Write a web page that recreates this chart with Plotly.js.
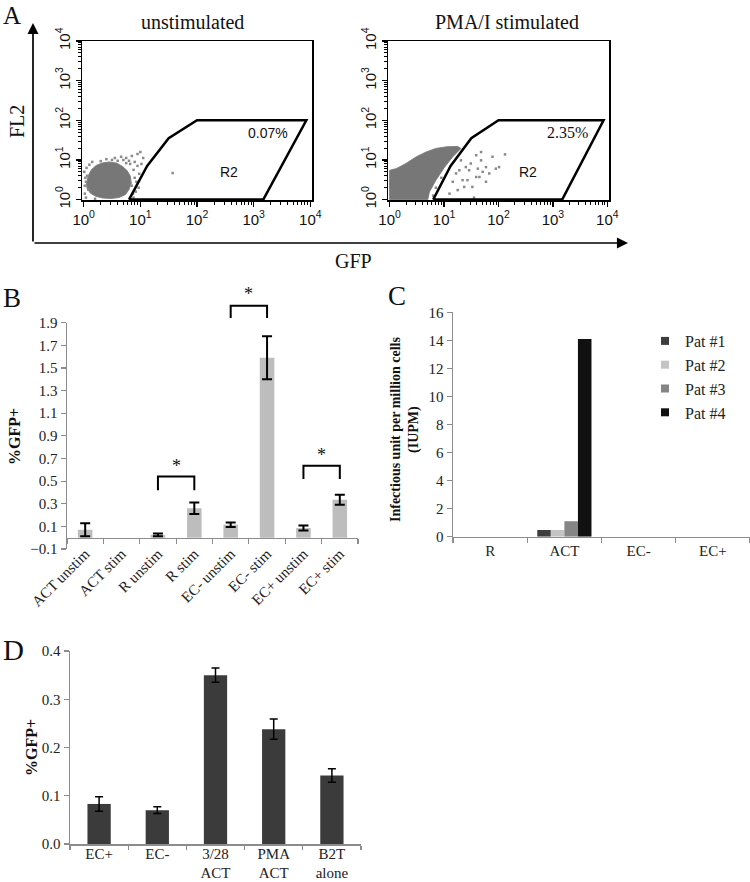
<!DOCTYPE html>
<html>
<head>
<meta charset="utf-8">
<script src="https://cdn.plot.ly/plotly-3.0.1.min.js"></script>
<style>html,body{margin:0;padding:0;background:#fff;}#chart{width:750px;height:882px;}</style>
</head>
<body>
<div id="chart"></div>
<script>
// ---------- DATA ----------
// Panel A (flow cytometry), values in log10 decades
const gateX = [0.8, 1.12, 1.5, 2.0, 3.93, 3.17, 0.8];
const gateY = [0.0, 0.85, 1.55, 2.0, 2.0, 0.0, 0.0];
const leftCoreX = [0.05,0.08,0.14,0.22,0.32,0.45,0.58,0.68,0.76,0.82,0.84,0.80,0.74,0.62,0.48,0.34,0.22,0.12,0.06,0.05];
const leftCoreY = [0.40,0.60,0.76,0.86,0.92,0.95,0.92,0.84,0.74,0.60,0.42,0.26,0.13,0.05,0.03,0.04,0.08,0.16,0.28,0.40];
const leftDotsX = [0.02,0.03,0.05,0.02,0.06,0.08,0.04,0.90,0.95,0.85,0.75,1.00,0.88,0.90,0.85,0.92,0.70,0.60,0.95,1.05,0.98,0.30,0.50,0.82,0.88,0.15,1.57,0.20,0.75,0.66,0.93,1.02,0.01,0.04,0.10,0.40,0.55,0.87,0.80,0.97];
const leftDotsY = [0.35,0.55,0.80,0.15,0.60,0.25,0.05,0.95,1.15,1.10,1.05,1.20,0.75,0.55,0.35,0.20,1.00,0.98,0.85,1.05,0.65,0.97,1.00,0.90,0.05,0.95,0.67,0.02,0.92,1.08,0.45,0.90,0.70,0.45,0.88,1.02,1.05,0.15,0.98,0.30];
const rightCoreX = [0.00,0.00,0.12,0.30,0.49,0.67,0.85,1.04,1.25,1.31,1.16,1.01,0.85,0.73,0.70,0.00];
const rightCoreY = [0.00,0.74,0.78,0.91,1.08,1.20,1.29,1.33,1.34,1.29,1.08,0.82,0.49,0.19,0.00,0.00];
const rightDotsX = [1.59,1.68,1.77,1.89,1.95,2.12,1.22,1.34,1.46,1.52,1.65,1.71,1.77,1.28,1.40,1.55,1.37,1.31,1.49,1.62,1.83,2.01,1.16,1.25,1.10,1.68,1.43,1.59,0.80,0.85,0.95];
const rightDotsY = [1.12,0.99,0.82,1.08,0.78,1.14,0.66,0.49,0.74,0.32,0.57,0.70,0.45,0.74,0.82,0.05,0.32,0.99,0.91,0.78,0.66,0.82,0.45,0.24,0.15,1.20,0.49,0.57,0.10,0.30,0.55];
const decades = [0, 1, 2, 3, 4];

// Panel B
const bCats = ['ACT unstim','ACT stim','R unstim','R stim','EC- unstim','EC- stim','EC+ unstim','EC+ stim'];
const bVals = [0.07, 0, 0.025, 0.26, 0.115, 1.59, 0.085, 0.335];
const bErr  = [0.058, NaN, 0.012, 0.05, 0.02, 0.19, 0.022, 0.045];
const bPairs = [['R unstim','R stim'], ['EC- unstim','EC- stim'], ['EC+ unstim','EC+ stim']];
const bPairTop = [0.54, 2.05, 0.636];
const bPairLeg = [0.42, 1.94, 0.518];
const bStarY = [0.63, 2.15, 0.73];

// Panel C
const cCats = ['R','ACT','EC-','EC+'];
const cNames = ['Pat #1','Pat #2','Pat #3','Pat #4'];
const pat1 = [0, 0.48, 0, 0];
const pat2 = [0, 0.48, 0, 0];
const pat3 = [0, 1.1, 0, 0];
const pat4 = [0, 14.1, 0, 0];

// Panel D
const dCats = ['EC+','EC-','3/28<br>ACT','PMA<br>ACT','B2T<br>alone'];
const dVals = [0.083, 0.07, 0.35, 0.238, 0.142];
const dErr  = [0.015, 0.007, 0.015, 0.021, 0.014];

// ---------- STYLE / HELPERS ----------
const W = 750, H = 882;
const SERIF = 'Liberation Serif, Times New Roman, serif';
const SANS = 'Liberation Sans, Arial, sans-serif';
const AX = '#8c8c8c';
const px = (a, b) => [a / W, b / W];
const py = (top, bottom) => [1 - bottom / H, 1 - top / H];
const toLin = arr => arr.map(v => (v === null ? null : Math.pow(10, v)));
const decVals = decades.map(n => Math.pow(10, n));
const decText = decades.map(n => '10<sup>' + n + '</sup>');
const minorVals = [];
decades.slice(0, 4).forEach(n => { for (let k = 2; k <= 9; k++) minorVals.push(k * Math.pow(10, n)); });

function flowAxis(domain, isY) {
  return {
    domain: domain, type: 'log', range: isY ? [-0.01, 4.0] : [-0.03, 4.03],
    tickmode: 'array', tickvals: decVals, ticktext: decText,
    ticks: 'outside', ticklen: 5, tickwidth: 1.5, tickcolor: '#000',
    tickangle: isY ? -90 : 0,
    showline: true, mirror: true, linecolor: '#000', linewidth: 1.5,
    showgrid: false, zeroline: false,
    tickfont: {family: SANS, size: 15, color: '#111'},
    minor: {tickmode: 'array', tickvals: minorVals, ticks: 'outside', ticklen: 3, tickwidth: 1, tickcolor: '#000', showgrid: false},
    fixedrange: true
  };
}

const traces = [];
// Panel A left
traces.push({type:'scatter', x: toLin(leftCoreX), y: toLin(leftCoreY), xaxis:'x', yaxis:'y', mode:'lines', fill:'toself', fillcolor:'#777', line:{width:1, color:'#808080'}, hoverinfo:'skip', showlegend:false});
traces.push({type:'scatter', x: toLin(leftDotsX), y: toLin(leftDotsY), xaxis:'x', yaxis:'y', mode:'markers', marker:{symbol:'square', size:2.5, color:'#8a8a8a'}, hoverinfo:'skip', showlegend:false});
traces.push({type:'scatter', x: toLin(gateX), y: toLin(gateY), xaxis:'x', yaxis:'y', mode:'lines', line:{color:'#000', width:2.5}, hoverinfo:'skip', showlegend:false});
// Panel A right
traces.push({type:'scatter', x: toLin(rightCoreX), y: toLin(rightCoreY), xaxis:'x2', yaxis:'y2', mode:'lines', fill:'toself', fillcolor:'#777', line:{width:1, color:'#808080'}, hoverinfo:'skip', showlegend:false});
traces.push({type:'scatter', x: toLin(rightDotsX), y: toLin(rightDotsY), xaxis:'x2', yaxis:'y2', mode:'markers', marker:{symbol:'square', size:2.5, color:'#8a8a8a'}, hoverinfo:'skip', showlegend:false});
traces.push({type:'scatter', x: toLin(gateX), y: toLin(gateY), xaxis:'x2', yaxis:'y2', mode:'lines', line:{color:'#000', width:2.5}, hoverinfo:'skip', showlegend:false});

// Panel B
traces.push({type:'bar', x: bCats, y: bVals, xaxis:'x3', yaxis:'y3', width:0.4, marker:{color:'#bdbdbd'},
  error_y:{type:'data', array:bErr, visible:true, color:'#000', thickness:2, width:5}, showlegend:false});
// significance brackets (overlay subplot x6/y6)
const brX = [], brY = [];
bPairs.forEach((p, i) => {
  brX.push(p[0], p[0], p[1], p[1], null);
  brY.push(bPairLeg[i], bPairTop[i], bPairTop[i], bPairLeg[i], null);
});
traces.push({type:'scatter', x: brX, y: brY, xaxis:'x6', yaxis:'y6', mode:'lines', line:{color:'#000', width:2}, connectgaps:false, hoverinfo:'skip', showlegend:false});

// Panel C
const cColors = ['#3d3d3d', '#c4c4c4', '#858585', '#111111'];
[pat1, pat2, pat3, pat4].forEach((vals, i) => {
  traces.push({type:'bar', x: cCats, y: vals, name: cNames[i], xaxis:'x4', yaxis:'y4', marker:{color: cColors[i]}, showlegend:false});
  traces.push({type:'scatter', x:[null], y:[null], name: cNames[i], xaxis:'x4', yaxis:'y4', mode:'markers',
    marker:{symbol:'square', size:8, color:cColors[i]}, showlegend:true});
});

// Panel D
traces.push({type:'bar', x: dCats, y: dVals, xaxis:'x5', yaxis:'y5', width:0.4, marker:{color:'#3b3b3b'},
  error_y:{type:'data', array:dErr, visible:true, color:'#000', thickness:1.5, width:4}, showlegend:false});

// ---------- LAYOUT ----------
const catAxisBase = {showgrid:false, zeroline:false, showline:true, linecolor:AX, linewidth:1.5,
  ticks:'outside', ticklen:5, tickwidth:1.2, tickcolor:AX, tickson:'boundaries',
  tickfont:{family:SERIF, size:15, color:'#222'}, fixedrange:true};
const valAxisBase = {showgrid:false, zeroline:false, showline:true, linecolor:AX, linewidth:1.5,
  ticks:'outside', ticklen:5, tickwidth:1.2, tickcolor:AX,
  tickfont:{family:SERIF, size:15, color:'#222'}, fixedrange:true};

const layout = {
  width: W, height: H, margin:{l:0, r:0, t:0, b:0},
  paper_bgcolor:'#fff', plot_bgcolor:'rgba(0,0,0,0)',
  barmode:'group', bargap:0.27, bargroupgap:0,
  showlegend:true,
  legend:{x: 645/W, y: 1 - 324/H, xanchor:'left', yanchor:'top', traceorder:'normal',
    font:{family:SERIF, size:16, color:'#222'}, bgcolor:'rgba(0,0,0,0)', itemwidth:30},
  xaxis: Object.assign(flowAxis(px(82, 312), false), {anchor:'y'}),
  yaxis: Object.assign(flowAxis(py(41, 200), true), {anchor:'x'}),
  xaxis2: Object.assign(flowAxis(px(388, 609), false), {anchor:'y2'}),
  yaxis2: Object.assign(flowAxis(py(41, 200), true), {anchor:'x2'}),
  xaxis3: Object.assign({}, catAxisBase, {domain: px(67, 358), anchor:'free', position: 1 - 537.7 / H,
    type:'category', categoryorder:'array', categoryarray:bCats, range:[-0.5, 7.5], tickangle:-45}),
  yaxis3: Object.assign({}, valAxisBase, {domain: py(322.7, 549), anchor:'x3', range:[-0.1, 1.9],
    tickmode:'array', tickvals:[-0.1,0.1,0.3,0.5,0.7,0.9,1.1,1.3,1.5,1.7,1.9], tickformat:'.1f'}),
  xaxis6: {domain: px(67, 358), anchor:'y6', type:'category', categoryorder:'array', categoryarray:bCats,
    range:[-0.5, 7.5], visible:false, fixedrange:true},
  yaxis6: {domain: py(283, 549), anchor:'x6', range:[-0.1, 2.25], visible:false, fixedrange:true},
  xaxis4: Object.assign({}, catAxisBase, {domain: px(453, 750), anchor:'y4', type:'category',
    categoryorder:'array', categoryarray:cCats, range:[-0.5, 3.5]}),
  yaxis4: Object.assign({}, valAxisBase, {domain: py(312.3, 536.7), anchor:'x4', range:[0, 16], dtick:2, tick0:0}),
  xaxis5: Object.assign({}, catAxisBase, {domain: px(70, 361), anchor:'y5', type:'category',
    categoryorder:'array', categoryarray:dCats, range:[-0.5, 4.5], ticklen:4, ticklabelstandoff:-5}),
  yaxis5: Object.assign({}, valAxisBase, {domain: py(651, 844), anchor:'x5', range:[0, 0.4],
    tickmode:'array', tickvals:[0, 0.1, 0.2, 0.3, 0.4], tickformat:'.1f'}),
  annotations: []
};

const A = layout.annotations;
function ptxt(text, x, y, size, opts) {
  A.push(Object.assign({text: text, xref:'paper', yref:'paper', x: x / W, y: 1 - y / H,
    xanchor:'center', yanchor:'middle', showarrow:false,
    font:{family:SERIF, size:size, color:'#111'}}, opts || {}));
}
// panel letters
ptxt('A', 12, 16, 25);
ptxt('B', 12, 298, 27);
ptxt('C', 397, 296, 27);
ptxt('D', 13, 650, 29);
// panel A texts
ptxt('unstimulated', 192, 22, 20);
ptxt('PMA/I stimulated', 507, 22, 20);
ptxt('FL2', 17, 122, 20, {textangle:-90});
ptxt('GFP', 353, 261, 20);
// axis titles
ptxt('<b>%GFP+</b>', 15, 437, 16, {textangle:-90});
ptxt('<b>%GFP+</b>', 31, 748, 16, {textangle:-90});
ptxt('<b>Infectious unit per million cells<br>(IUPM)</b>', 405, 430, 14, {textangle:-90});
// big arrows of panel A
A.push({xref:'paper', yref:'paper', x: 33 / W, y: 1 - 23 / H, ax: 0, ay: 220, axref:'pixel', ayref:'pixel',
  text:'', showarrow:true, arrowhead:2, arrowsize:1.3, arrowwidth:1.7, arrowcolor:'#000', standoff:0});
A.push({xref:'paper', yref:'paper', x: 628 / W, y: 1 - 243 / H, ax: -595, ay: 0, axref:'pixel', ayref:'pixel',
  text:'', showarrow:true, arrowhead:2, arrowsize:1.3, arrowwidth:1.7, arrowcolor:'#000', standoff:0});
// gate annotations (log axes: positions in decades)
A.push({xref:'x', yref:'y', x:3.26, y:1.69, text:'0.07%', showarrow:false, font:{family:SANS, size:14, color:'#111'}});
A.push({xref:'x', yref:'y', x:2.56, y:0.70, text:'R2', showarrow:false, font:{family:SANS, size:14, color:'#111'}});
A.push({xref:'x2', yref:'y2', x:3.27, y:1.69, text:'2.35%', showarrow:false, font:{family:SERIF, size:16, color:'#111'}});
A.push({xref:'x2', yref:'y2', x:2.55, y:0.70, text:'R2', showarrow:false, font:{family:SANS, size:14, color:'#111'}});
// stars over brackets
bPairs.forEach((p, i) => {
  const xm = (bCats.indexOf(p[0]) + bCats.indexOf(p[1])) / 2;
  A.push({xref:'x6', yref:'y6', x: xm, y: bStarY[i], text:'*', showarrow:false,
    font:{family:SERIF, size:18, color:'#111'}});
});

Plotly.newPlot('chart', traces, layout, {staticPlot:true, displayModeBar:false});
</script>
</body>
</html>
